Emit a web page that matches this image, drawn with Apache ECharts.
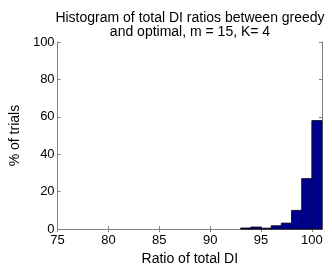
<!DOCTYPE html>
<html><head><meta charset="utf-8">
<script src="https://cdn.jsdelivr.net/npm/echarts@6/dist/echarts.min.js"></script>
<style>html,body{margin:0;padding:0;background:#fff}#c{width:332px;height:271px}</style>
</head><body><div id="c"></div>
<script>
const binStarts = [93, 94, 95, 96, 97, 98, 99, 100];
const pctTrials = [0.6, 1.1, 0.5, 1.8, 3.2, 10, 27, 58];
const xTicks = [75, 80, 85, 90, 95, 100];
const yTicks = [0, 20, 40, 60, 80, 100];

const data = binStarts.map((b, i) => [b, pctTrials[i]]);
const font = '"Liberation Sans", Arial, sans-serif';
const axisCol = '#808080';
const chart = echarts.init(document.getElementById('c'), null, {renderer: 'canvas'});
chart.setOption({
  animation: false,
  title: {
    text: 'Histogram of total DI ratios between greedy\nand optimal, m = 15, K= 4',
    left: 185, top: 6, textAlign: 'center',
    textStyle: {fontFamily: font, fontSize: 14, fontWeight: 'normal', color: '#000', lineHeight: 14}
  },
  grid: {left: 47, right: 10, top: 42, bottom: 33},
  xAxis: [{
    type: 'value', min: 75, max: 101, interval: 5, position: 'bottom',
    name: 'Ratio of total DI', nameLocation: 'middle', nameGap: 22,
    nameTextStyle: {fontFamily: font, fontSize: 14, color: '#000'},
    axisLine: {lineStyle: {color: axisCol, width: 1}},
    axisTick: {inside: true, length: 3, customValues: xTicks, lineStyle: {color: axisCol}},
    axisLabel: {customValues: xTicks, fontFamily: font, fontSize: 13, color: '#000', margin: 5},
    splitLine: {show: false}
  }, {
    type: 'value', min: 75, max: 101, interval: 5, position: 'top',
    axisLine: {lineStyle: {color: axisCol, width: 1}},
    axisTick: {inside: true, length: 3, customValues: xTicks, lineStyle: {color: axisCol}},
    axisLabel: {show: false}, splitLine: {show: false}
  }],
  yAxis: [{
    type: 'value', min: 0, max: 100, interval: 20, position: 'left',
    name: '% of trials', nameLocation: 'middle', nameGap: 28,
    nameTextStyle: {fontFamily: font, fontSize: 14, color: '#000'},
    axisLine: {show: true, lineStyle: {color: axisCol, width: 1}},
    axisTick: {show: true, inside: true, length: 3, lineStyle: {color: axisCol}},
    axisLabel: {fontFamily: font, fontSize: 13, color: '#000', margin: 3},
    splitLine: {show: false}
  }, {
    type: 'value', min: 0, max: 100, interval: 20, position: 'right',
    axisLine: {show: true, lineStyle: {color: axisCol, width: 1}},
    axisTick: {show: true, inside: true, length: 3, lineStyle: {color: axisCol}},
    axisLabel: {show: false}, splitLine: {show: false}
  }],
  series: [{
    type: 'custom',
    xAxisIndex: 0, yAxisIndex: 0,
    data: data,
    renderItem: function (params, api) {
      const x0 = api.value(0), v = api.value(1);
      const p0 = api.coord([x0, 0]);
      const p1 = api.coord([x0 + 1, v]);
      return {
        type: 'rect',
        shape: {x: p0[0], y: p1[1], width: p1[0] - p0[0], height: p0[1] - p1[1]},
        style: {fill: '#00008F', stroke: '#000', lineWidth: 0.8}
      };
    }
  }]
});
</script></body></html>
